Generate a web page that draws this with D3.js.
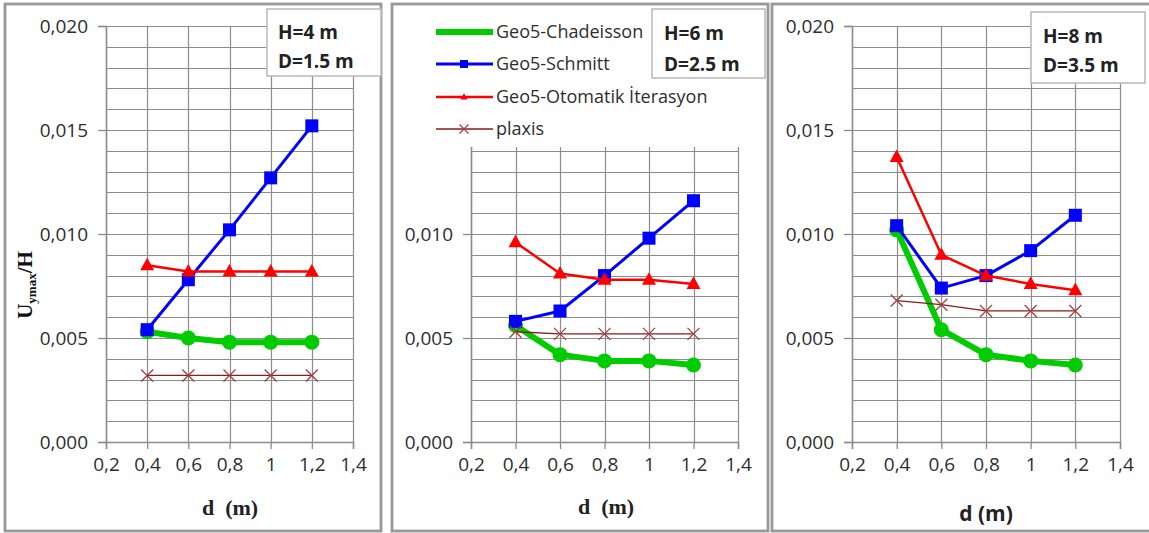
<!DOCTYPE html>
<html><head><meta charset="utf-8">
<script src="https://cdn.jsdelivr.net/npm/d3@7"></script>
<style>
html,body{margin:0;padding:0;background:#fff;}
svg{display:block;}
</style></head>
<body>
<svg id="chart" width="1149" height="533"></svg>
<script>
// ---------- DATA ----------
const dValues = [0.4, 0.6, 0.8, 1.0, 1.2];
const xTicks = [0.2, 0.4, 0.6, 0.8, 1.0, 1.2, 1.4];
const yTicks = [0.000, 0.005, 0.010, 0.015, 0.020];
const yMinorStep = 0.001;
const panelH = ["H=4 m", "H=6 m", "H=8 m"];
const panelD = ["D=1.5 m", "D=2.5 m", "D=3.5 m"];
const seriesNames = ["Geo5-Chadeisson", "Geo5-Schmitt", "Geo5-Otomatik İterasyon", "plaxis"];
// values per panel (H=4, H=6, H=8)
const chadeisson = [
  [0.0053, 0.0050, 0.0048, 0.0048, 0.0048],
  [0.0056, 0.0042, 0.0039, 0.0039, 0.0037],
  [0.0102, 0.0054, 0.0042, 0.0039, 0.0037]
];
const schmitt = [
  [0.0054, 0.0078, 0.0102, 0.0127, 0.0152],
  [0.0058, 0.0063, 0.0080, 0.0098, 0.0116],
  [0.0104, 0.0074, 0.0080, 0.0092, 0.0109]
];
const otomatik = [
  [0.0085, 0.0082, 0.0082, 0.0082, 0.0082],
  [0.0096, 0.0081, 0.0078, 0.0078, 0.0076],
  [0.0137, 0.0090, 0.0080, 0.0076, 0.0073]
];
const plaxis = [
  [0.0032, 0.0032, 0.0032, 0.0032, 0.0032],
  [0.0053, 0.0052, 0.0052, 0.0052, 0.0052],
  [0.0068, 0.0066, 0.0063, 0.0063, 0.0063]
];

// ---------- LAYOUT ----------
const svg = d3.select("#chart");
const FONT = "'Open Sans', 'Noto Sans', sans-serif";
const TXT = "#2e2e2e";
const GRID = "#8c8c8c";
const panels = [
  {fx0: 5, fx1: 381, left: 106, right: 353, box: {x: 267, y: 9, w: 114, h: 67, tx: 278, b1: 39, b2: 68},
   xlab: {x: 230, y: 515, serif: true}},
  {fx0: 392, fx1: 768, left: 471, right: 738, box: {x: 652, y: 9, w: 113, h: 69, tx: 664, b1: 40, b2: 71},
   xlab: {x: 606, y: 514, serif: true}},
  {fx0: 772, fx1: 1152, left: 852, right: 1120, box: {x: 1031, y: 12, w: 114, h: 71, tx: 1043, b1: 43, b2: 72},
   xlab: {x: 986, y: 521, serif: false}}
];
const plotTop = 26, plotBottom = 442;

const styles = [
  {color: "#00cc00", width: 6, marker: "circle", size: 7.5},
  {color: "#0000ff", width: 3, marker: "square", size: 13},
  {color: "#ff0000", width: 2.5, marker: "triangle", size: 14},
  {color: "#8b1a1a", width: 1.3, marker: "cross", size: 12}
];
const allSeries = [chadeisson, schmitt, otomatik, plaxis];

const fmtY = d => d3.format(".3f")(d).replace(".", ",");
const fmtX = d => (Math.abs(d - Math.round(d)) < 1e-9 ? String(Math.round(d)) : d3.format(".1f")(d).replace(".", ","));

function drawMarker(g, type, x, y, s, color) {
  if (type === "circle") {
    g.append("circle").attr("cx", x).attr("cy", y).attr("r", s).attr("fill", color);
  } else if (type === "square") {
    g.append("rect").attr("x", x - s / 2).attr("y", y - s / 2).attr("width", s).attr("height", s).attr("fill", color);
  } else if (type === "triangle") {
    const h = s * 0.9;
    g.append("path").attr("d", `M${x},${y - h * 0.6}L${x + s / 2},${y + h * 0.4}L${x - s / 2},${y + h * 0.4}Z`).attr("fill", color);
  } else if (type === "cross") {
    const r = s / 2;
    g.append("path").attr("d", `M${x - r},${y - r}L${x + r},${y + r}M${x - r},${y + r}L${x + r},${y - r}`)
      .attr("stroke", "#a04040").attr("stroke-width", 1.3).attr("fill", "none");
  }
}

panels.forEach((p, pi) => {
  const g = svg.append("g");
  // panel frame
  g.append("rect").attr("x", p.fx0).attr("y", 4).attr("width", p.fx1 - p.fx0).attr("height", 527)
    .attr("fill", "#fff").attr("stroke", "#a8a8a8").attr("stroke-width", 3);
  g.append("rect").attr("x", p.fx0).attr("y", 4).attr("width", p.fx1 - p.fx0).attr("height", 527)
    .attr("fill", "none").attr("stroke", "#8a8a8a").attr("stroke-width", 1);

  const x = d3.scaleLinear().domain([0.2, 1.4]).range([p.left, p.right]);
  const y = d3.scaleLinear().domain([0, 0.020]).range([plotBottom, plotTop]);

  // minor + major horizontal grid
  const yGrid = d3.range(0, 0.020 + 1e-9, yMinorStep);
  g.append("g").selectAll("line").data(yGrid).join("line")
    .attr("x1", p.left).attr("x2", p.right)
    .attr("y1", d => Math.round(y(d)) + 0.5).attr("y2", d => Math.round(y(d)) + 0.5)
    .attr("stroke", GRID).attr("stroke-width", 1.2);
  // vertical grid
  g.append("g").selectAll("line").data(xTicks).join("line")
    .attr("x1", d => Math.round(x(d)) + 0.5).attr("x2", d => Math.round(x(d)) + 0.5)
    .attr("y1", plotTop).attr("y2", plotBottom)
    .attr("stroke", GRID).attr("stroke-width", 1.2);

  // axes
  const yAxis = d3.axisLeft(y).tickValues(yTicks).tickFormat(fmtY).tickSize(8).tickPadding(10);
  const ya = g.append("g").attr("transform", `translate(${p.left},0)`).call(yAxis);
  const xAxis = d3.axisBottom(x).tickValues(xTicks).tickFormat(fmtX).tickSize(7).tickPadding(9);
  const xa = g.append("g").attr("transform", `translate(0,${plotBottom})`).call(xAxis);
  [ya, xa].forEach(a => {
    a.select(".domain").attr("stroke", GRID).attr("stroke-width", 1.5);
    a.selectAll(".tick line").attr("stroke", GRID).attr("stroke-width", 1.3);
    a.selectAll("text").attr("fill", TXT).style("font-family", FONT).style("font-size", "19px");
  });

  // series
  allSeries.forEach((ser, si) => {
    const st = styles[si];
    const vals = ser[pi];
    const line = d3.line().x((d, i) => x(dValues[i])).y(d => y(d));
    const sg = g.append("g");
    sg.append("path").datum(vals).attr("d", line).attr("fill", "none")
      .attr("stroke", st.color).attr("stroke-width", st.width).attr("stroke-linejoin", "round");
    vals.forEach((v, i) => drawMarker(sg, st.marker, x(dValues[i]), y(v), st.size, st.color));
  });

  // legend (panel 2 only)
  if (pi === 1) {
    const lg = g.append("g");
    lg.append("rect").attr("x", 403).attr("y", 8).attr("width", 345).attr("height", 139).attr("fill", "#fff");
    const rowsY = [32, 64, 97, 129];
    const legSize = [3, 8, 7, 9];
    seriesNames.forEach((name, si) => {
      const st = styles[si];
      const yy = rowsY[si];
      lg.append("line").attr("x1", 436).attr("x2", 493).attr("y1", yy).attr("y2", yy)
        .attr("stroke", st.color).attr("stroke-width", st.width);
      drawMarker(lg, st.marker, 464, yy, legSize[si], st.color);
      lg.append("text").attr("x", 496).attr("y", yy).attr("dy", "0.35em")
        .attr("fill", TXT).style("font-family", FONT).style("font-size", "18px").text(name);
    });
  }

  // H / D box
  const b = p.box;
  g.append("rect").attr("x", b.x).attr("y", b.y).attr("width", b.w).attr("height", b.h)
    .attr("fill", "#fff").attr("stroke", "#b8b8b8").attr("stroke-width", 1.5);
  g.append("text").attr("x", b.tx).attr("y", b.b1).attr("fill", "#222")
    .style("font-family", FONT).style("font-size", "19px").style("font-weight", "bold").text(panelH[pi]);
  g.append("text").attr("x", b.tx).attr("y", b.b2).attr("fill", "#222")
    .style("font-family", FONT).style("font-size", "19px").style("font-weight", "bold").text(panelD[pi]);

  // x axis title
  const xl = g.append("text").attr("x", p.xlab.x).attr("y", p.xlab.y).attr("text-anchor", "middle")
    .attr("fill", "#222").attr("xml:space", "preserve").style("white-space", "pre").style("font-weight", "bold");
  if (p.xlab.serif) {
    xl.style("font-family", "'Liberation Serif', 'Times New Roman', serif").style("font-size", "22px").text("d  (m)");
  } else {
    xl.style("font-family", FONT).style("font-size", "21px").text("d (m)");
  }
});

// y axis title (panel 1)
const yl = svg.append("text").attr("transform", "translate(32,285) rotate(-90)").attr("text-anchor", "middle")
  .attr("fill", "#111").style("font-family", "'Liberation Serif', 'Times New Roman', serif")
  .style("font-weight", "bold").style("font-size", "21px");
yl.append("tspan").text("U");
yl.append("tspan").attr("dy", 4).style("font-size", "13px").text("ymax");
yl.append("tspan").attr("dy", -4).text("/H");
</script>
</body></html>
